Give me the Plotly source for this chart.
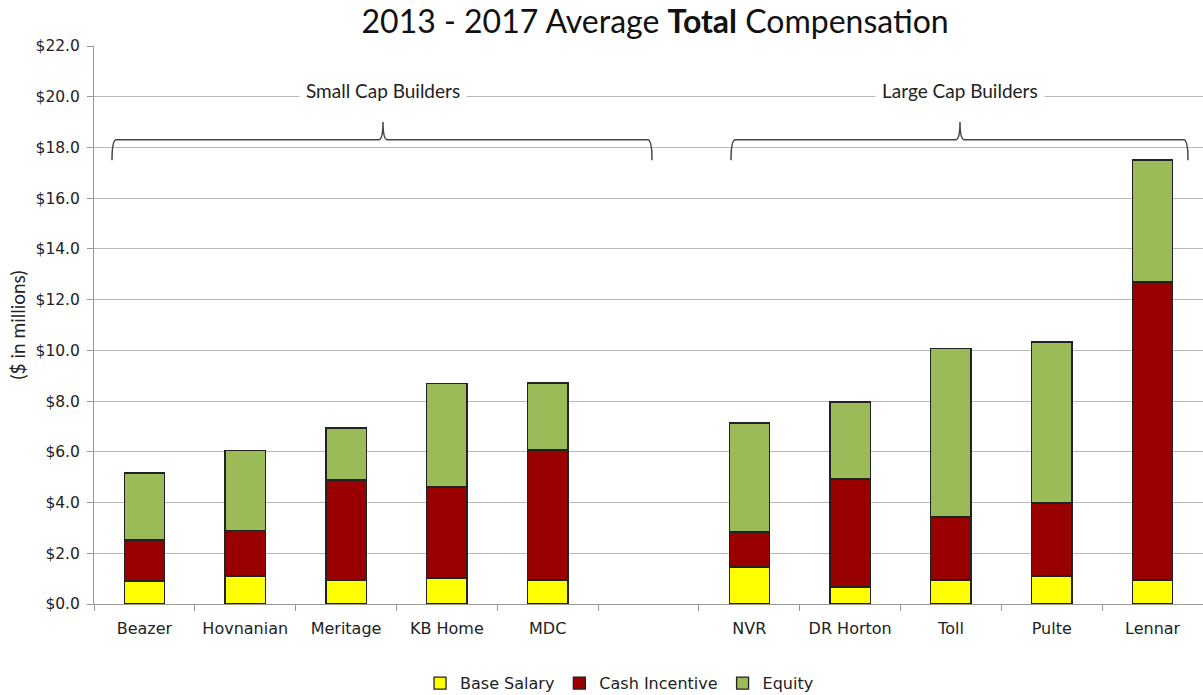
import plotly.graph_objects as go

categories = ["Beazer", "Hovnanian", "Meritage", "KB Home", "MDC", " ",
              "NVR", "DR Horton", "Toll", "Pulte", "Lennar"]
base_salary = [0.91, 1.10, 0.94, 1.03, 0.95, None, 1.46, 0.67, 0.95, 1.10, 0.95]
cash_incentive = [1.61, 1.79, 3.95, 3.58, 5.12, None, 1.38, 4.26, 2.48, 2.88, 11.75]
equity = [2.65, 3.17, 2.05, 4.07, 2.64, None, 4.30, 3.04, 6.63, 6.35, 4.81]
y_ticks = [0, 2, 4, 6, 8, 10, 12, 14, 16, 18, 20, 22]
y_tick_labels = ["$%.1f" % v for v in y_ticks]

series = [
    ("Base Salary", base_salary, "#FFFF00"),
    ("Cash Incentive", cash_incentive, "#990000"),
    ("Equity", equity, "#9BBB59"),
]

fig = go.Figure()
for name, vals, color in series:
    fig.add_trace(go.Bar(
        x=categories, y=vals, name=name, width=0.4,
        marker=dict(color=color, line=dict(color="#222222", width=1.3)),
    ))

FONT_TXT = "Lato, 'Open Sans', sans-serif"
FONT_AX = "'DejaVu Sans', sans-serif"

fig.update_layout(
    barmode="stack",
    width=1203, height=695,
    margin=dict(l=94, r=0, t=46, b=91, autoexpand=False),
    plot_bgcolor="white", paper_bgcolor="white",
    title=dict(text="2013 - 2017 Average <b>Total</b> Compensation",
               x=0.506, xref="paper", xanchor="center",
               y=0.968, yref="container", yanchor="middle",
               font=dict(family=FONT_TXT, size=32, color="#111111")),
    xaxis=dict(type="category", categoryorder="array", categoryarray=categories,
               automargin=False,
               showline=True, linecolor="#999999", linewidth=1,
               ticks="outside", tickson="boundaries", ticklen=6, tickcolor="#999999",
               ticklabelstandoff=10,
               tickfont=dict(family=FONT_AX, size=16, color="#222222"),
               showgrid=False, range=[-0.5, 10.5]),
    yaxis=dict(range=[0, 22], tickvals=y_ticks, ticktext=y_tick_labels,
               automargin=False,
               showgrid=True, gridcolor="#b8b8b8", gridwidth=1,
               showline=True, linecolor="#999999", linewidth=1,
               ticks="outside", ticklen=6, tickcolor="#999999",
               ticklabelstandoff=4,
               tickfont=dict(family=FONT_AX, size=15.5, color="#222222"),
               title=dict(text="($ in millions)", standoff=4,
                          font=dict(family=FONT_TXT, size=19, color="#222222")),
               zeroline=False),
    legend=dict(orientation="h", xref="container", x=0.515, xanchor="center",
                yref="container", y=0.017, yanchor="middle",
                font=dict(family=FONT_AX, size=16, color="#222222"),
                itemwidth=30, traceorder="normal"),
)

def px(p):
    return (p - 94) / 1109.0

def bracket(left, peak, right, ybot=17.5, ymid=18.3, ytop=19.0):
    l, pk, r = px(left), px(peak), px(right)
    e = 0.004
    return (f"M {l},{ybot} Q {l},{ymid} {l+e},{ymid} L {pk-e},{ymid} "
            f"Q {pk},{ymid} {pk},{ytop} Q {pk},{ymid} {pk+e},{ymid} "
            f"L {r-e},{ymid} Q {r},{ymid} {r},{ybot}")

for left, peak, right, label in [(112, 383, 652, "Small Cap Builders"),
                                 (731, 960, 1188, "Large Cap Builders")]:
    fig.add_shape(type="path", xref="paper", yref="y",
                  path=bracket(left, peak, right),
                  line=dict(color="#444444", width=1.5))
    fig.add_annotation(x=px(peak), y=20, xref="paper", yref="y", text=label,
                       showarrow=False, bgcolor="white", borderpad=6,
                       font=dict(family=FONT_TXT, size=19, color="#222222"),
                       xanchor="center", yanchor="middle", yshift=6)

fig.write_html("out.html", config={"displayModeBar": False},
               post_script="document.body.style.margin='0';document.body.style.overflow='hidden';")
